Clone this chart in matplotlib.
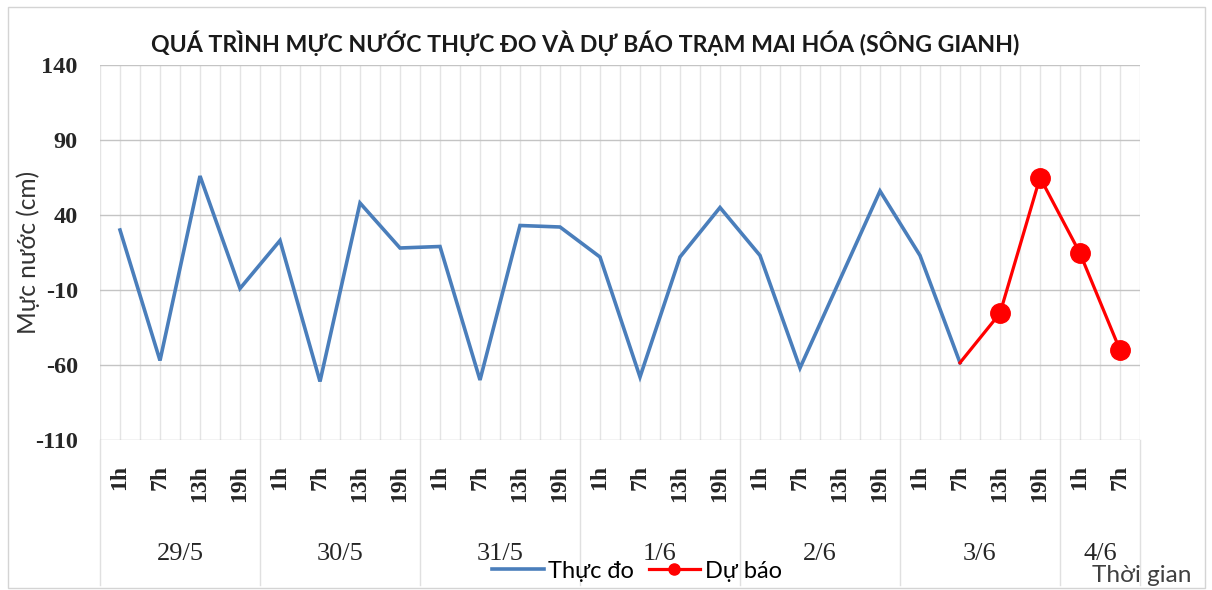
import numpy as np
import matplotlib
matplotlib.use("Agg")
import matplotlib.pyplot as plt
import matplotlib.transforms as mtransforms
from matplotlib.lines import Line2D
from matplotlib.patches import Rectangle


TITLE = "QUÁ TRÌNH MỰC NƯỚC THỰC ĐO VÀ DỰ BÁO TRẠM MAI HÓA (SÔNG GIANH)"
DATES = ["29/5", "30/5", "31/5", "1/6", "2/6", "3/6", "4/6"]
HOURS_PER_DATE = [4, 4, 4, 4, 4, 4, 2]
HOURS = ["1h", "7h", "13h", "19h"]
# measured water level (cm), 29/5 1h .. 3/6 7h
OBSERVED = [30, -57, 66, -9,
            23, -71, 48, 18,
            19, -70, 33, 32,
            12, -68, 12, 45,
            13, -62, -3, 56,
            13, -58.5]
# forecast starts from the last measured point (3/6 7h) .. 4/6 7h
FORECAST = [-58.5, -25.5, 65, 14.5, -50]
Y_TICKS = [-110, -60, -10, 40, 90, 140]

W, H = 1212, 590
SANS = ["Lato", "Open Sans", "DejaVu Sans"]
SERIF = ["Liberation Serif", "DejaVu Serif"]
BLUE = "#4a7ebb"
RED = "#ff0000"


def px(x, y):
    # pixel position of the reference picture -> figure fraction
    return x / W, 1 - y / H


def fit_text(fig, txt, target_px, along="x"):
    # scale a text so its drawn extent matches the reference
    bb = txt.get_window_extent(renderer=fig.canvas.get_renderer())
    size = bb.width if along == "x" else bb.height
    txt.set_fontsize(txt.get_fontsize() * target_px / size)


def main():
    hour_labels = [h for n in HOURS_PER_DATE for h in HOURS[:n]]
    n_cat = len(hour_labels)
    x_obs = np.arange(len(OBSERVED))
    x_fc = np.arange(len(OBSERVED) - 1, len(OBSERVED) - 1 + len(FORECAST))

    fig = plt.figure(figsize=(W / 100, H / 100), dpi=100)
    fig.patches.append(Rectangle(px(8, 588), 1197 / W, 581 / H, transform=fig.transFigure,
                                 fill=False, edgecolor="#d4d4d4", lw=1))

    left, bottom = px(100, 440)
    ax = fig.add_axes([left, bottom, 1040 / W, 375 / H])
    ax.set_xlim(-0.5, n_cat - 0.5)
    ax.set_ylim(Y_TICKS[0], Y_TICKS[-1])
    for s in ax.spines.values():
        s.set_visible(False)

    ax.set_yticks(Y_TICKS)
    ax.set_yticklabels([str(v) for v in Y_TICKS], fontfamily=SERIF, fontweight="bold",
                       fontsize=17.5, color="#262626")
    ax.set_xticks(np.arange(n_cat))
    ax.set_xticks(np.arange(-0.5, n_cat, 1), minor=True)
    ax.set_xticklabels(hour_labels, rotation=90, fontfamily=SERIF, fontweight="bold",
                       fontsize=17, va="top", color="#262626")
    ax.tick_params(axis="both", which="both", length=0)
    ax.tick_params(axis="y", pad=16)
    ax.tick_params(axis="x", pad=18)
    ax.grid(axis="y", color="#c4c4c4", lw=1)
    ax.grid(axis="x", which="both", color="#e4e4e4", lw=1)
    ax.set_axisbelow(True)

    ax.plot(x_obs, OBSERVED, color=BLUE, lw=2.6, solid_joinstyle="miter")
    ax.plot(x_fc, FORECAST, color=RED, lw=2.3, marker="o", markersize=14,
            markevery=list(range(1, len(FORECAST))))

    # date groups under the hour labels
    trans = mtransforms.blended_transform_factory(ax.transData, ax.transAxes)
    edges = np.concatenate([[0], np.cumsum(HOURS_PER_DATE)]) - 0.5
    for e in edges:
        ax.plot([e, e], [0, -145 / 375], transform=trans, color="#e0e0e0", lw=1, clip_on=False)
    for d, a, b in zip(DATES, edges[:-1], edges[1:]):
        ax.text((a + b) / 2, -114 / 375, d, transform=trans, ha="center", va="center",
                fontfamily=SERIF, fontsize=19, color="#262626")

    title = fig.text(*px(585, 43), TITLE, ha="center", va="center", fontfamily=SANS,
                     fontweight="bold", fontsize=15, color="#1a1a1a")
    ylab = fig.text(*px(28, 252), "Mực nước (cm)", rotation=90, ha="center", va="center",
                    fontfamily=SANS, fontsize=18, color="#333333")
    xlab = fig.text(*px(1142, 576), "Thời gian", ha="center", va="center",
                    fontfamily=SANS, fontsize=16, color="#404040")
    fit_text(fig, title, 870)
    fit_text(fig, ylab, 163, along="y")
    fit_text(fig, xlab, 100)

    handles = [Line2D([], [], color=BLUE, lw=2.6),
               Line2D([], [], color=RED, lw=2.3, marker="o", markersize=8)]
    fig.legend(handles, ["Thực đo", "Dự báo"], loc="center", bbox_to_anchor=px(637, 571),
               ncol=2, frameon=False, handlelength=2.2, columnspacing=0.6,
               handletextpad=0.2, prop={"family": SANS, "size": 17})

    fig.savefig("out.png", dpi=100)
    plt.close(fig)


if __name__ == "__main__":
    main()
